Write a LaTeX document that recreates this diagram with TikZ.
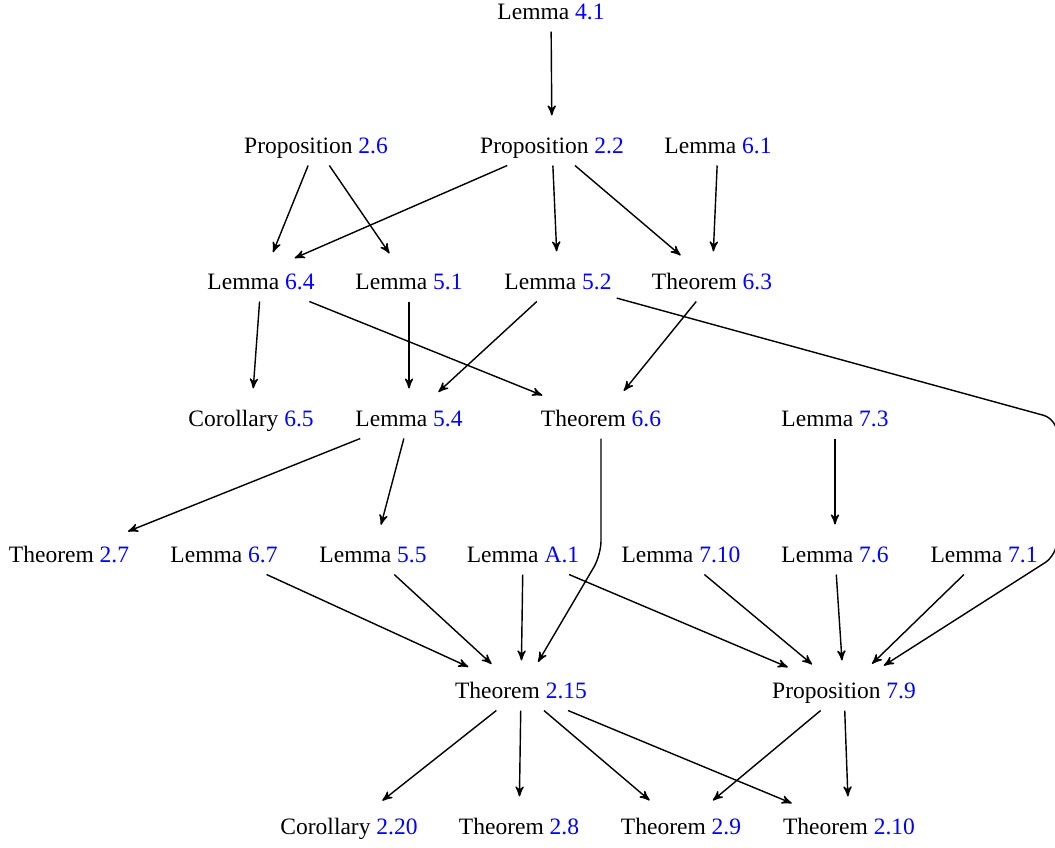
\documentclass[tikz,border=0pt]{standalone}
\usepackage{fontspec}
\setmainfont{Liberation Serif}
\usetikzlibrary{arrows}

\newcommand{\lnum}[1]{\textcolor{blue}{#1}}

\begin{document}
\begin{tikzpicture}[x=0.4255pt,y=-0.4255pt,
  res/.style={inner xsep=2pt,inner ysep=3.8pt,text height=7.6pt,text depth=1pt},
  dep/.style={-stealth',semithick,shorten >=4.7pt}]
\useasboundingbox (0,0) rectangle (1055,847);

% rows of results
\node[res] (l41) at (551,12) {Lemma \lnum{4.1}};

\node[res] (p26) at (316,146) {Proposition \lnum{2.6}};
\node[res] (p22) at (552,146) {Proposition \lnum{2.2}};
\node[res] (l61) at (718,146) {Lemma \lnum{6.1}};

\node[res] (l64) at (261,282) {Lemma \lnum{6.4}};
\node[res] (l51) at (409,282) {Lemma \lnum{5.1}};
\node[res] (l52) at (558,282) {Lemma \lnum{5.2}};
\node[res] (t63) at (712,282) {Theorem \lnum{6.3}};

\node[res] (c65) at (251,419) {Corollary \lnum{6.5}};
\node[res] (l54) at (409,419) {Lemma \lnum{5.4}};
\node[res] (t66) at (601,419) {Theorem \lnum{6.6}};
\node[res] (l73) at (835,419) {Lemma \lnum{7.3}};

\node[res] (t27) at (69,555) {Theorem \lnum{2.7}};
\node[res] (l67) at (224,555) {Lemma \lnum{6.7}};
\node[res] (l55) at (373,555) {Lemma \lnum{5.5}};
\node[res] (la1) at (523,555) {Lemma \lnum{A.1}};
\node[res] (l710) at (681,555) {Lemma \lnum{7.10}};
\node[res] (l76) at (835,555) {Lemma \lnum{7.6}};
\node[res] (l71) at (984,555) {Lemma \lnum{7.1}};

\node[res] (t215) at (521,691) {Theorem \lnum{2.15}};
\node[res] (p79) at (844,691) {Proposition \lnum{7.9}};

\node[res] (c220) at (349,827) {Corollary \lnum{2.20}};
\node[res] (t28) at (519,827) {Theorem \lnum{2.8}};
\node[res] (t29) at (681,827) {Theorem \lnum{2.9}};
\node[res] (t210) at (849,827) {Theorem \lnum{2.10}};

% bends of the long edges
\coordinate (bend66) at (601,555);
\coordinate (bendtop) at (1057,419);
\coordinate (bendlow) at (1057,555);

% dependencies
\foreach \a/\b in {l41/p22, p26/l64, p26/l51, p22/l52, p22/t63, l61/t63,
  l64/c65, l64/t66, l51/l54, l52/l54, t63/t66, l54/t27, l54/l55, l73/l76,
  l67/t215, l55/t215, la1/t215, la1/p79, l710/p79, l76/p79, l71/p79,
  t215/c220, t215/t28, t215/t29, t215/t210, p79/t29, p79/t210}
  \draw[dep] (\a) -- (\b);

\draw[dep] (p22) -- ([xshift=10pt]l64.north);
\draw[dep,rounded corners=6] (t66) -- (bend66) -- (t215);
\draw[dep,rounded corners=6] (l52) -- (bendtop) -- (bendlow) -- (p79);
\end{tikzpicture}
\end{document}
